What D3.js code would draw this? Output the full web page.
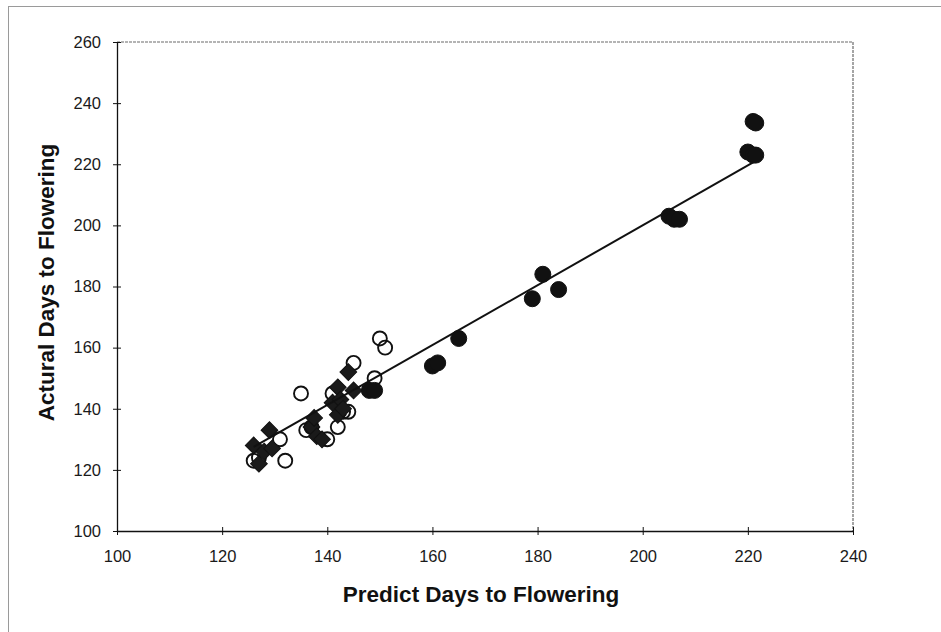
<!DOCTYPE html>
<html>
<head>
<meta charset="utf-8">
<script src="https://cdn.jsdelivr.net/npm/d3@7"></script>
<style>
  html, body { margin: 0; padding: 0; background: #fff; }
  svg { display: block; font-family: "Liberation Sans", Arial, sans-serif; }
</style>
</head>
<body>
<svg id="chart" width="941" height="632"></svg>
<script>
// Axis ticks
const xTicks = [100, 120, 140, 160, 180, 200, 220, 240];
const yTicks = [100, 120, 140, 160, 180, 200, 220, 240, 260];

// Filled circles
const filledX = [221, 221.5, 220, 221, 221.5, 205, 206, 207, 181, 179, 184, 165, 160, 161, 148, 149];
const filledY = [234, 233.5, 224, 223, 223, 203, 202, 202, 184, 176, 179, 163, 154, 155, 146, 146];

// Open circles
const openX = [126, 127, 131, 132, 135, 136, 140, 142, 143, 144, 145, 149, 150, 151, 141, 137];
const openY = [123, 124, 130, 123, 145, 133, 130, 134, 139, 139, 155, 150, 163, 160, 145, 134];

// Filled diamonds
const diamondX = [126, 127, 128, 129, 129.5, 137, 137.5, 138, 139, 141, 142, 142, 142.5, 143, 144, 145];
const diamondY = [128, 122, 126, 133, 127, 134, 137, 131, 130, 142, 138, 147, 143, 140, 152, 146];

// Fitted line end points
const fitX = [126, 221];
const fitY = [127.5, 220.6];

const svg = d3.select("#chart");
const margin = { left: 117, right: 88, top: 42, bottom: 101 };
const W = 941, H = 632;
const x = d3.scaleLinear().domain([100, 240]).range([margin.left, W - margin.right]);
const y = d3.scaleLinear().domain([100, 260]).range([H - margin.bottom, margin.top]);

// Outer chart border
svg.append("rect")
  .attr("x", 8.5).attr("y", 6.5)
  .attr("width", W + 10).attr("height", H + 10)
  .attr("fill", "none").attr("stroke", "#9a9a9a").attr("stroke-width", 1);

// Plot area frame (top and right)
svg.append("path")
  .attr("d", `M${x(100)},${y(260)}H${x(240)}V${y(100)}`)
  .attr("fill", "none").attr("stroke", "#6a6a6a").attr("stroke-width", 1.2)
  .attr("stroke-dasharray", "3,1");

// X axis with crossing ticks
const gx = svg.append("g").attr("transform", `translate(0,${y(100)})`);
gx.call(d3.axisBottom(x).tickValues(xTicks).tickSize(0).tickPadding(19).tickFormat(d3.format("d")));
gx.select(".domain").attr("stroke", "#111").attr("stroke-width", 1.3);
gx.selectAll(".tick").append("line")
  .attr("y1", -4).attr("y2", 4).attr("stroke", "#111").attr("stroke-width", 1);
gx.selectAll(".tick text").attr("font-size", 16.5).attr("fill", "#1a1a1a")
  .attr("font-family", "Liberation Sans, Arial, sans-serif");

// Y axis with crossing ticks
const gy = svg.append("g").attr("transform", `translate(${x(100)},0)`);
gy.call(d3.axisLeft(y).tickValues(yTicks).tickSize(0).tickPadding(16).tickFormat(d3.format("d")));
gy.select(".domain").attr("stroke", "#111").attr("stroke-width", 1.3);
gy.selectAll(".tick").append("line")
  .attr("x1", -4).attr("x2", 4).attr("stroke", "#111").attr("stroke-width", 1);
gy.selectAll(".tick text").attr("font-size", 16.5).attr("fill", "#1a1a1a")
  .attr("font-family", "Liberation Sans, Arial, sans-serif");

// Axis titles
svg.append("text")
  .attr("x", 481).attr("y", 602)
  .attr("text-anchor", "middle")
  .attr("font-size", 22.5).attr("font-weight", "bold").attr("fill", "#111")
  .text("Predict Days to Flowering");

svg.append("text")
  .attr("transform", `translate(54,${(y(100) + y(260)) / 2 - 4}) rotate(-90)`)
  .attr("text-anchor", "middle")
  .attr("font-size", 22.5).attr("font-weight", "bold").attr("fill", "#111")
  .text("Actural Days to Flowering");

const plot = svg.append("g");

// Open circles
plot.selectAll("circle.open")
  .data(openX.map((v, i) => [v, openY[i]]))
  .join("circle").attr("class", "open")
  .attr("cx", d => x(d[0])).attr("cy", d => y(d[1])).attr("r", 7)
  .attr("fill", "none").attr("stroke", "#111").attr("stroke-width", 1.9);

// Filled diamonds
plot.selectAll("path.diamond")
  .data(diamondX.map((v, i) => [v, diamondY[i]]))
  .join("path").attr("class", "diamond")
  .attr("d", d3.symbol().type(d3.symbolSquare).size(140))
  .attr("transform", d => `translate(${x(d[0])},${y(d[1])}) rotate(45)`)
  .attr("fill", "#1a1a1a").attr("stroke", "#111").attr("stroke-width", 1);

// Filled circles
plot.selectAll("circle.filled")
  .data(filledX.map((v, i) => [v, filledY[i]]))
  .join("circle").attr("class", "filled")
  .attr("cx", d => x(d[0])).attr("cy", d => y(d[1])).attr("r", 8)
  .attr("fill", "#111").attr("stroke", "#111").attr("stroke-width", 1);

// Fitted line
plot.append("path")
  .datum(fitX.map((v, i) => [v, fitY[i]]))
  .attr("d", d3.line().x(d => x(d[0])).y(d => y(d[1])))
  .attr("fill", "none").attr("stroke", "#111").attr("stroke-width", 2);
</script>
</body>
</html>
